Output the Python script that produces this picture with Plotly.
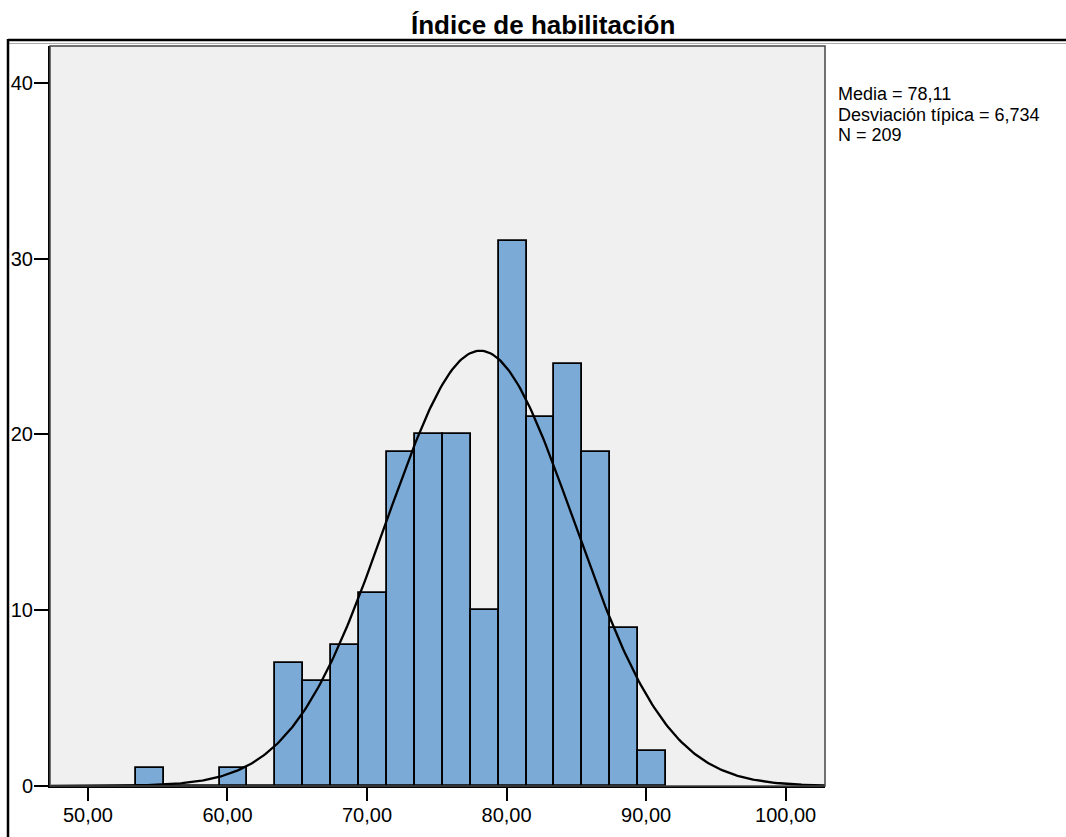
import numpy as np
import plotly.graph_objects as go

# ---- data ----
bin_start = 53.43
bin_width = 2.0
counts = [1, 0, 0, 1, 0, 7, 6, 8, 11, 19, 20, 20, 10, 31, 21, 24, 19, 9, 2]
x_tickvals = [50, 60, 70, 80, 90, 100]
x_ticktext = ["50,00", "60,00", "70,00", "80,00", "90,00", "100,00"]
y_tickvals = [0, 10, 20, 30, 40]
y_ticktext = ["0", "10", "20", "30", "40"]
mean_val = 78.11
sd_val = 6.734
n_val = 209
title_text = "Índice de habilitación"
stats_lines = ["Media = 78,11", "Desviación típica = 6,734", "N = 209"]

x_range = [47.28, 102.82]
y_range = [0, 42.1]

# ---- geometry (pixels) ----
W, H = 1066, 837
L, R, T, B = 50, 825, 46, 786
pw, ph = R - L, B - T

def px_x(p):
    return (p - L) / pw

def px_y(p):
    return (B - p) / ph

centers = [bin_start + bin_width * (i + 0.5) for i in range(len(counts))]

xs = np.linspace(x_range[0], x_range[1], 400)
ys = n_val * bin_width * np.exp(-0.5 * ((xs - mean_val) / sd_val) ** 2) / (sd_val * np.sqrt(2 * np.pi))

FONT = "Liberation Sans, Arial, sans-serif"

fig = go.Figure()
fig.add_trace(go.Bar(
    x=centers, y=counts, width=bin_width,
    marker=dict(color="#7BAAD6", line=dict(color="black", width=1.8)),
    showlegend=False, hoverinfo="x+y",
))
fig.add_trace(go.Scatter(
    x=xs, y=ys, mode="lines", line=dict(color="black", width=2.3),
    showlegend=False, hoverinfo="skip",
))

shapes = [
    dict(type="rect", xref="paper", yref="paper", x0=0, x1=1, y0=0, y1=1,
         line=dict(color="#444444", width=1.5), layer="above"),
    dict(type="line", xref="paper", yref="paper", x0=px_x(8), x1=px_x(1070),
         y0=px_y(40), y1=px_y(40), line=dict(color="black", width=2.5)),
    dict(type="line", xref="paper", yref="paper", x0=px_x(8), x1=px_x(1070),
         y0=px_y(43.5), y1=px_y(43.5), line=dict(color="#aaaaaa", width=1)),
    dict(type="line", xref="paper", yref="paper", x0=px_x(8), x1=px_x(8),
         y0=px_y(39), y1=px_y(840), line=dict(color="black", width=2.5)),
]

annotations = [
    dict(text="<b>" + title_text + "</b>", xref="paper", yref="paper",
         x=px_x(543), y=px_y(25), xanchor="center", yanchor="middle",
         showarrow=False, font=dict(family=FONT, size=26, color="black")),
]
for i, line in enumerate(stats_lines):
    annotations.append(dict(
        text=line, xref="paper", yref="paper",
        x=px_x(836), y=px_y(94 + 20.5 * i), xanchor="left", yanchor="middle",
        showarrow=False, font=dict(family=FONT, size=18, color="black"),
    ))

fig.update_layout(
    width=W, height=H,
    margin=dict(l=L, r=W - R, t=T, b=H - B, pad=0, autoexpand=False),
    paper_bgcolor="white", plot_bgcolor="#F0F0F0",
    bargap=0,
    font=dict(family=FONT, size=20, color="black"),
    shapes=shapes, annotations=annotations,
)
fig.update_xaxes(
    range=x_range, tickvals=x_tickvals, ticktext=x_ticktext,
    ticks="outside", ticklen=13, tickwidth=2, tickcolor="black",
    showline=True, linecolor="black", linewidth=2, automargin=False,
    showgrid=False, zeroline=False, tickfont=dict(size=20),
    ticklabelstandoff=-3,
)
fig.update_yaxes(
    range=y_range, tickvals=y_tickvals, ticktext=y_ticktext,
    ticks="outside", ticklen=14, tickwidth=2, tickcolor="black",
    showline=True, linecolor="black", linewidth=2, automargin=False,
    showgrid=False, zeroline=False, tickfont=dict(size=20),
    ticklabelstandoff=-3,
)

fig.write_html(
    "out.html",
    config={"displayModeBar": False},
    post_script="document.body.style.margin='0';document.body.style.overflow='hidden';",
)
